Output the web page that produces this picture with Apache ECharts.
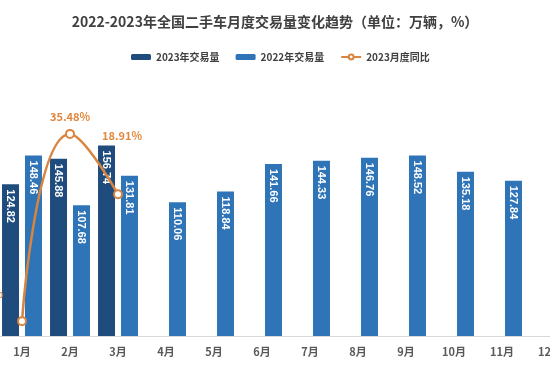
<!DOCTYPE html>
<html><head><meta charset="utf-8">
<script src="https://cdn.jsdelivr.net/npm/echarts@6/dist/echarts.min.js"></script>
<style>html,body{margin:0;padding:0;background:#fff}#c{width:550px;height:378px}</style>
</head><body><div id="c"></div>
<script>
var months = ['1月','2月','3月','4月','5月','6月','7月','8月','9月','10月','11月','12月'];
var vol2023 = [124.82, 145.88, 156.74, null, null, null, null, null, null, null, null, null];
var vol2022 = [148.46, 107.68, 131.81, 110.06, 118.84, 141.66, 144.33, 146.76, 148.52, 135.18, 127.84, null];
var yoy2023 = [-15.92, 35.48, 18.91];
var yoyLabelOffsets = [[-41, -27], [0, -17], [4, -58]];

var FONT = '"Noto Sans CJK SC", "Noto Sans", sans-serif';
var chart = echarts.init(document.getElementById('c'), null, {renderer: 'canvas'});
var lineData = yoy2023.map(function (v, i) {
  return {value: v, label: {offset: yoyLabelOffsets[i]}};
});
var barLabel = {show: true, position: 'insideTop', rotate: -90, distance: 5, align: 'left', verticalAlign: 'middle',
  color: '#fff', fontFamily: '"Liberation Sans", Arial, sans-serif', fontSize: 11, fontWeight: 'bold'};
chart.setOption({
  animation: false,
  title: {
    text: '2022-2023年全国二手车月度交易量变化趋势（单位：万辆，%）',
    left: 'center', top: 10,
    textStyle: {fontFamily: FONT, fontSize: 14, fontWeight: 'bold', color: '#404040'}
  },
  legend: {
    left: 126, top: 47, itemWidth: 20, itemHeight: 6, itemGap: 16,
    textStyle: {fontFamily: FONT, fontSize: 10, fontWeight: 'bold', color: '#404040'},
    data: ['2023年交易量', '2022年交易量', '2023月度同比']
  },
  grid: {left: -2, width: 576, top: 93, height: 243, containLabel: false, outerBoundsMode: 'none'},
  xAxis: {type: 'category', data: months,
    axisLine: {lineStyle: {color: '#d9d9d9'}}, axisTick: {show: false},
    axisLabel: {margin: 10, fontFamily: FONT, fontSize: 11, fontWeight: 'bold', color: '#595959'}},
  yAxis: [
    {type: 'value', min: 0, max: 200, show: false, splitLine: {show: false}},
    {type: 'value', min: -20, max: 46.7, show: false, splitLine: {show: false}}
  ],
  series: [
    {name: '2023年交易量', type: 'bar', yAxisIndex: 0, data: vol2023,
     barWidth: 17, barGap: '35%',
     itemStyle: {color: '#1F4C7C'}, label: barLabel},
    {name: '2022年交易量', type: 'bar', yAxisIndex: 0, data: vol2022,
     barWidth: 17,
     itemStyle: {color: '#2E74B7'}, label: barLabel},
    {name: '2023月度同比', type: 'line', yAxisIndex: 1, data: lineData,
     smooth: true, symbol: 'circle', symbolSize: 8, z: 5,
     lineStyle: {color: '#D9843F', width: 2.5},
     itemStyle: {color: '#fff', borderColor: '#D9843F', borderWidth: 2},
     label: {show: true, position: 'inside', color: '#E0893E', fontFamily: FONT, fontSize: 11, fontWeight: 'bold',
       formatter: function (p) { return p.value.toFixed(2) + '%'; }}}
  ]
});
</script></body></html>
